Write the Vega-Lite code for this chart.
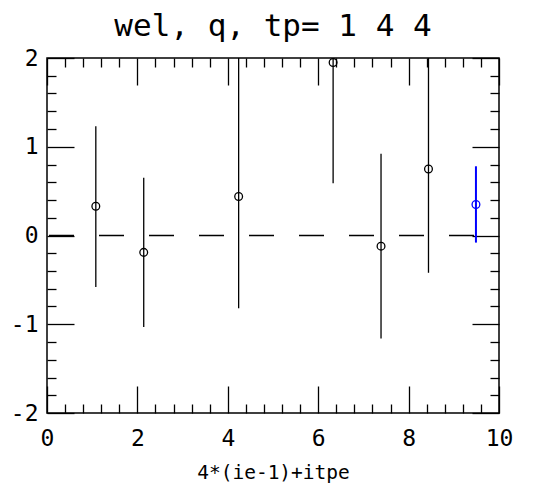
{
  "$schema": "https://vega.github.io/schema/vega-lite/v6.json",
  "width": 452,
  "height": 355,
  "autosize": {"type": "none"},
  "padding": {"left": 47, "top": 58, "right": 49, "bottom": 70},
  "background": "white",
  "title": {
    "text": "wel, q, tp= 1 4 4",
    "font": "DejaVu Sans Mono",
    "fontSize": 31,
    "fontWeight": "normal",
    "color": "black",
    "anchor": "middle",
    "frame": "group",
    "offset": 4
  },
  "config": {
    "view": {"stroke": "black", "strokeWidth": 1.5},
    "axis": {
      "domain": false,
      "grid": false,
      "tickColor": "black",
      "tickWidth": 1.3,
      "labelFont": "DejaVu Sans Mono",
      "labelFontSize": 23,
      "labelColor": "black",
      "labelFlush": false,
      "labelOverlap": false,
      "titleFont": "DejaVu Sans Mono",
      "titleFontSize": 19.5,
      "titleFontWeight": "normal",
      "titleColor": "black"
    }
  },
  "data": {
    "values": [
      {"x": 1.08, "y": 0.33, "lo": -0.58, "hi": 1.23, "set": "prev"},
      {"x": 2.14, "y": -0.19, "lo": -1.03, "hi": 0.65, "set": "prev"},
      {"x": 4.24, "y": 0.44, "lo": -0.82, "hi": 2.0, "set": "prev"},
      {"x": 6.33, "y": 1.95, "lo": 0.59, "hi": 2.0, "set": "prev"},
      {"x": 7.39, "y": -0.12, "lo": -1.16, "hi": 0.92, "set": "prev"},
      {"x": 8.44, "y": 0.75, "lo": -0.42, "hi": 2.0, "set": "prev"},
      {"x": 9.49, "y": 0.35, "lo": -0.08, "hi": 0.78, "set": "new"}
    ]
  },
  "resolve": {"axis": {"x": "independent", "y": "independent"}},
  "layer": [
    {
      "data": {"values": [{"ref": 0}]},
      "mark": {"type": "rule", "color": "black", "strokeWidth": 1.3, "strokeDash": [25, 25], "strokeDashOffset": 25},
      "encoding": {
        "y": {"field": "ref", "type": "quantitative", "scale": {"domain": [-2, 2], "nice": false, "zero": false}, "axis": null}
      }
    },
    {
      "mark": {"type": "rule"},
      "encoding": {
        "x": {
          "field": "x", "type": "quantitative",
          "scale": {"domain": [0, 10], "nice": false, "zero": false},
          "axis": {
            "orient": "bottom",
            "values": [0, 0.4, 0.8, 1.2, 1.6, 2, 2.4, 2.8, 3.2, 3.6, 4, 4.4, 4.8, 5.2, 5.6, 6, 6.4, 6.8, 7.2, 7.6, 8, 8.4, 8.8, 9.2, 9.6, 10],
            "tickSize": {"condition": {"test": "datum.value % 2 === 0", "value": -27}, "value": -9},
            "labelExpr": "datum.value % 2 === 0 ? '' + datum.value : ''",
            "labelPadding": 41,
            "title": "4*(ie-1)+itpe",
            "titlePadding": -5
          }
        },
        "y": {
          "field": "lo", "type": "quantitative",
          "scale": {"domain": [-2, 2], "nice": false, "zero": false},
          "axis": {
            "orient": "left",
            "values": [-2, -1.8, -1.6, -1.4, -1.2, -1, -0.8, -0.6, -0.4, -0.2, 0, 0.2, 0.4, 0.6, 0.8, 1, 1.2, 1.4, 1.6, 1.8, 2],
            "tickSize": {"condition": {"test": "datum.value % 1 === 0", "value": -27}, "value": -9},
            "labelExpr": "datum.value % 1 === 0 ? '' + datum.value : ''",
            "labelPadding": 36,
            "title": null
          }
        },
        "y2": {"field": "hi"},
        "color": {"field": "set", "type": "nominal", "scale": {"domain": ["prev", "new"], "range": ["black", "blue"]}, "legend": null},
        "strokeWidth": {"field": "set", "type": "nominal", "scale": {"domain": ["prev", "new"], "range": [1.3, 2]}, "legend": null}
      }
    },
    {
      "mark": {"type": "point", "shape": "circle", "filled": false, "size": 60, "strokeWidth": 1.3, "opacity": 1},
      "encoding": {
        "x": {
          "field": "x", "type": "quantitative",
          "scale": {"domain": [0, 10], "nice": false, "zero": false},
          "axis": {
            "orient": "top",
            "values": [0, 0.4, 0.8, 1.2, 1.6, 2, 2.4, 2.8, 3.2, 3.6, 4, 4.4, 4.8, 5.2, 5.6, 6, 6.4, 6.8, 7.2, 7.6, 8, 8.4, 8.8, 9.2, 9.6, 10],
            "tickSize": {"condition": {"test": "datum.value % 2 === 0", "value": -27}, "value": -9},
            "labels": false,
            "title": null
          }
        },
        "y": {
          "field": "y", "type": "quantitative",
          "scale": {"domain": [-2, 2], "nice": false, "zero": false},
          "axis": {
            "orient": "right",
            "values": [-2, -1.8, -1.6, -1.4, -1.2, -1, -0.8, -0.6, -0.4, -0.2, 0, 0.2, 0.4, 0.6, 0.8, 1, 1.2, 1.4, 1.6, 1.8, 2],
            "tickSize": {"condition": {"test": "datum.value % 1 === 0", "value": -27}, "value": -9},
            "labels": false,
            "title": null
          }
        },
        "color": {"field": "set", "type": "nominal", "scale": {"domain": ["prev", "new"], "range": ["black", "blue"]}, "legend": null}
      }
    }
  ]
}
